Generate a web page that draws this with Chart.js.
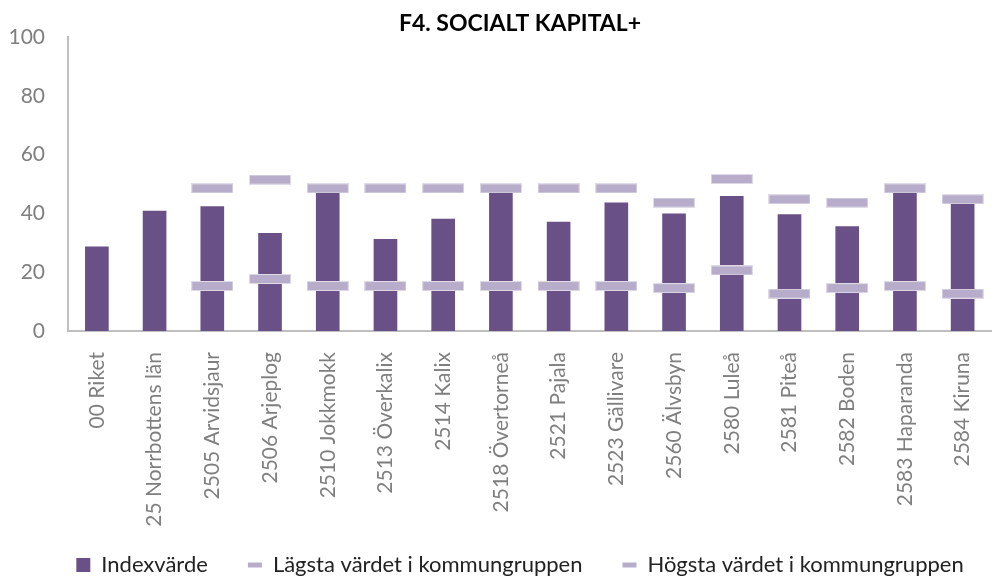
<!DOCTYPE html>
<html lang="sv">
<head>
<meta charset="utf-8">
<title>F4. SOCIALT KAPITAL+</title>
<script src="https://cdn.jsdelivr.net/npm/chart.js@4.4.1/dist/chart.umd.min.js"></script>
<style>
    html, body { margin: 0; padding: 0; background: #fff; overflow: hidden; }
    #wrap { width: 995px; height: 576px; overflow: hidden; }
    canvas { display: block; }
</style>
</head>
<body>
<div id="wrap">
    <canvas id="socialChart" width="1009" height="600"></canvas>
</div>
<script>
// Data
var categories = [
    '00 Riket', '25 Norrbottens län', '2505 Arvidsjaur', '2506 Arjeplog',
    '2510 Jokkmokk', '2513 Överkalix', '2514 Kalix', '2518 Övertorneå',
    '2521 Pajala', '2523 Gällivare', '2560 Älvsbyn', '2580 Luleå',
    '2581 Piteå', '2582 Boden', '2583 Haparanda', '2584 Kiruna'
];
var indexValues = [28.7, 40.9, 42.4, 33.3, 47.1, 31.3, 38.2, 47.0, 37.2, 43.7, 40.0, 45.9, 39.7, 35.6, 47.1, 43.3];
var lowestValues = [null, null, 15.3, 17.7, 15.3, 15.3, 15.3, 15.3, 15.3, 15.3, 14.6, 20.6, 12.7, 14.6, 15.3, 12.7];
var highestValues = [null, null, 48.5, 51.5, 48.5, 48.5, 48.5, 48.5, 48.5, 48.5, 43.7, 51.7, 44.8, 43.7, 48.5, 44.8];
var yTicks = [0, 20, 40, 60, 80, 100];

// Colors
var barPurple = '#695188';
var markerLilac = '#B7ADCA';
var axisGray = '#BFBFBF';
var tickGray = '#7F7F7F';

// Flat horizontal marker used as point style
function makeMarker(color) {
    var c = document.createElement('canvas');
    c.width = 42;
    c.height = 10;
    var g = c.getContext('2d');
    g.fillStyle = color;
    g.fillRect(0, 0, 42, 10);
    g.strokeStyle = 'rgba(255,255,255,0.55)';
    g.lineWidth = 1;
    g.strokeRect(0.5, 0.5, 41, 9);
    return c;
}
var markerImg = makeMarker(markerLilac);

// Excel lets tick labels run outside the axis box, so no clipping here
function noLabelClip() { return undefined; }

Chart.defaults.font.family = 'Lato, "Open Sans", sans-serif';

var ctx = document.getElementById('socialChart').getContext('2d');
new Chart(ctx, {
    type: 'bar',
    data: {
        labels: categories,
        datasets: [{
            label: 'Indexvärde',
            data: indexValues,
            backgroundColor: barPurple,
            borderWidth: 0,
            barPercentage: 0.41,
            categoryPercentage: 1,
            pointStyle: 'rect',
            order: 2
        }, {
            type: 'line',
            label: 'Lägsta värdet i kommungruppen',
            data: lowestValues,
            showLine: false,
            pointStyle: markerImg,
            backgroundColor: markerLilac,
            borderColor: markerLilac,
            order: 1
        }, {
            type: 'line',
            label: 'Högsta värdet i kommungruppen',
            data: highestValues,
            showLine: false,
            pointStyle: markerImg,
            backgroundColor: markerLilac,
            borderColor: markerLilac,
            order: 1
        }]
    },
    options: {
        responsive: false,
        animation: false,
        layout: { padding: { left: 31, right: 0, top: 0, bottom: 14 } },
        plugins: {
            title: {
                display: true,
                text: 'F4. SOCIALT KAPITAL+',
                color: '#000',
                font: { size: 23, weight: 'bold' },
                padding: { top: 9.4, bottom: 0 }
            },
            legend: {
                position: 'bottom',
                labels: {
                    color: '#222',
                    font: { size: 22 },
                    padding: 40,
                    usePointStyle: true,
                    boxHeight: 14,
                    pointStyleWidth: 14,
                    sort: function (a, b) { return a.datasetIndex - b.datasetIndex; },
                    generateLabels: function (chart) {
                        var items = Chart.defaults.plugins.legend.labels.generateLabels(chart);
                        items.forEach(function (it) {
                            if (it.datasetIndex === 0) {
                                it.pointStyle = 'rect';
                                it.lineWidth = 0;
                            } else {
                                it.pointStyle = 'line';
                                it.strokeStyle = markerLilac;
                                it.lineWidth = 5;
                            }
                        });
                        return items;
                    }
                }
            },
            tooltip: { enabled: false }
        },
        scales: {
            x: {
                offset: true,
                grid: { display: false, drawTicks: false },
                border: { color: axisGray, width: 2 },
                ticks: {
                    color: tickGray,
                    font: { size: 21 },
                    minRotation: 90,
                    maxRotation: 90,
                    autoSkip: false,
                    padding: 21
                },
                afterFit: function (scale) {
                    scale.height = 183;
                    scale._computeLabelArea = noLabelClip;
                }
            },
            y: {
                min: 0,
                max: 100,
                grid: { display: false, drawTicks: false },
                border: { color: axisGray, width: 2 },
                afterBuildTicks: function (scale) {
                    scale.ticks = yTicks.map(function (v) { return { value: v }; });
                },
                ticks: {
                    color: tickGray,
                    font: { size: 21 },
                    padding: 23
                },
                afterFit: function (scale) {
                    scale.width = 37;
                    scale._computeLabelArea = noLabelClip;
                }
            }
        }
    }
});
</script>
</body>
</html>
